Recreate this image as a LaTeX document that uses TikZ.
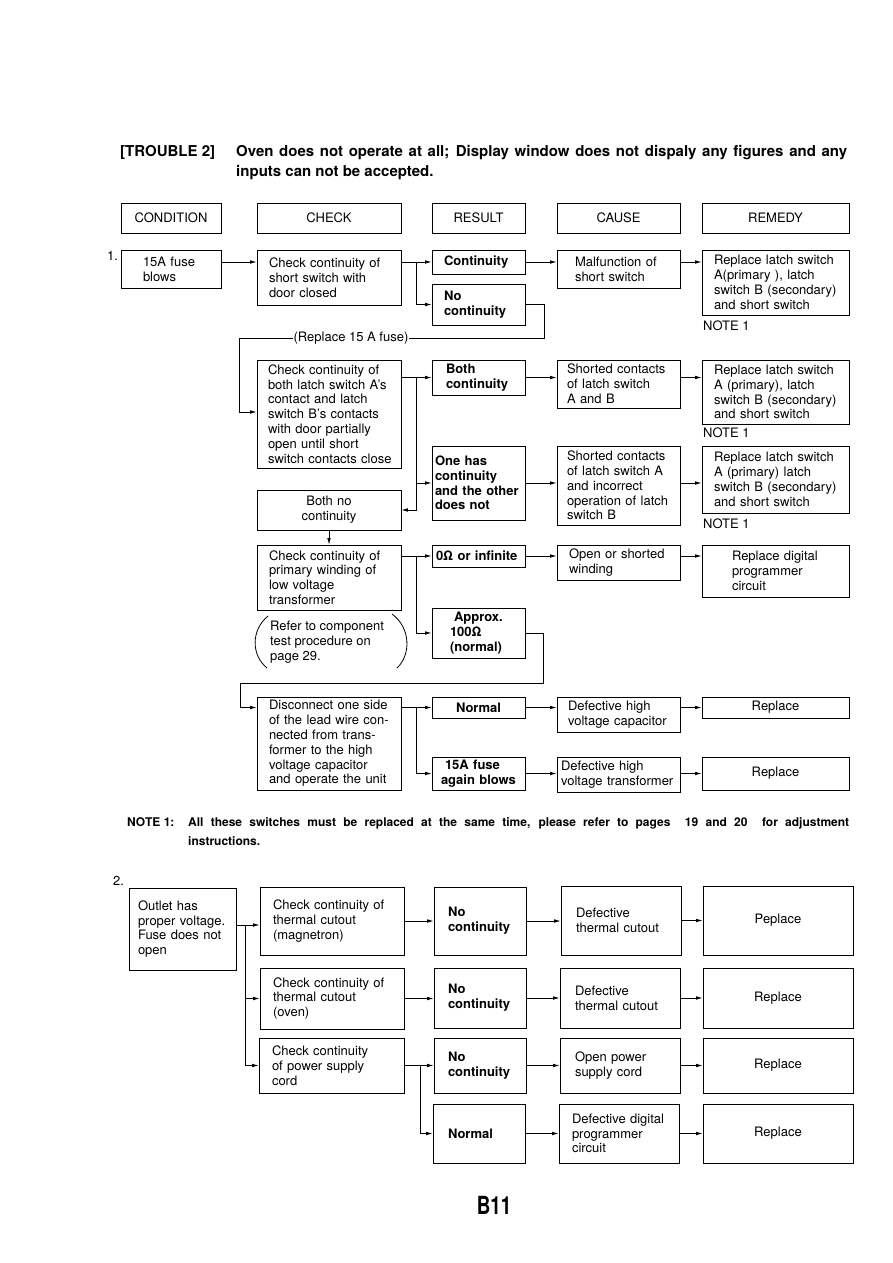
\documentclass[tikz,border=0pt]{standalone}
\usepackage{fontspec}
\setmainfont{TeX Gyre Heros}
\usetikzlibrary{arrows.meta}
\tikzset{
  bx/.style={draw, line width=0.8pt, font=\fontsize{13}{14.8}\selectfont, inner ysep=1pt},
  arr/.style={line width=0.8pt, -{Latex[length=6.5pt,width=3.6pt]}},
  ln/.style={line width=0.8pt},
  lbl/.style={font=\fontsize{13}{14.8}\selectfont, inner sep=0pt},
}
\newcommand\bx[8]{%
  \pgfmathsetlengthmacro\bxw{(#4)-(#2)-2*(#6)}%
  \pgfmathsetlengthmacro\bxh{(#5)-(#3)}%
  \pgfmathsetlengthmacro\bxfw{(#4)-(#2)}%
  \node[bx, minimum width=\bxfw, minimum height=\bxh, inner xsep=#6pt,
        text width=\bxw, align=#7] (#1) at ({(#2+#4)/2},{(#3+#5)/2}) {#8};}
\begin{document}
\begin{tikzpicture}[x=1pt,y=-1pt]
\fill[white] (0,0) rectangle (893,1263);
\useasboundingbox (0,0) rectangle (893,1263);

% title
\node[anchor=base west, font=\fontsize{15}{20}\selectfont\bfseries, inner sep=0pt] (tt1) at (120,156) {[TROUBLE 2]};
\node[anchor=base west, font=\fontsize{15}{20}\selectfont\bfseries, inner sep=0pt, text width=611pt, align=justify] (tt2) at (236,156)
  {Oven does not operate at all; Display window does not dispaly any figures and any\linebreak inputs can not be accepted.};

% headers
\bx{hd1}{121}{203}{221}{233}{2}{center}{CONDITION}
\bx{hd2}{257}{203}{401}{233}{4}{center}{CHECK}
\bx{hd3}{432}{203}{525}{233}{4}{center}{RESULT}
\bx{hd4}{557}{203}{680}{233}{4}{center}{CAUSE}
\bx{hd5}{702}{203}{849}{233}{4}{center}{REMEDY}

% ---------- section 1
\node[lbl, anchor=north west] (num1) at (107,251) {1.};
\bx{a1}{121}{250}{221}{288}{22}{left}{15A fuse\\blows}
\bx{c1}{257}{250}{401}{305}{12}{left}{Check continuity of\\short switch with\\door closed}
\bx{r1}{432}{250}{525}{274}{12}{left}{\bfseries Continuity}
\bx{r2}{432}{284}{525}{325}{12}{left}{\bfseries No\\continuity}
\bx{k1}{557}{250}{680}{288}{18}{left}{Malfunction of\\short switch}
\bx{m1}{702}{250}{849}{315}{12}{left}{Replace latch switch\\A(primary ), latch\\switch B (secondary)\\and short switch}
\node[lbl, anchor=base west] (nt1) at (703,330) {NOTE 1};

\bx{c2}{257}{360}{401}{468}{6}{left}{\hspace*{5pt}Check continuity of\\\hspace*{5pt}both latch switch A’s\\\hspace*{5pt}contact and latch\\\hspace*{5pt}switch B’s contacts\\\hspace*{5pt}with door partially\\\hspace*{5pt}open until short\\\hspace*{5pt}switch contacts close}
\bx{b1}{432}{360}{525}{395}{14}{left}{\bfseries Both\\continuity}
\bx{b2}{432}{446}{525}{520}{3}{left}{\bfseries \mbox{One has}\\\mbox{continuity}\\\mbox{and the other}\\\mbox{does not}}
\bx{bn}{257}{490}{401}{530}{4}{center}{Both no\\continuity}
\bx{s1}{557}{360}{680}{408}{10}{left}{Shorted contacts\\of latch switch\\A and B}
\bx{m2}{702}{360}{849}{424}{12}{left}{Replace latch switch\\A (primary), latch\\switch B (secondary)\\and short switch}
\node[lbl, anchor=base west] (nt2) at (703,437) {NOTE 1};
\bx{s2}{557}{446}{680}{525}{10}{left}{Shorted contacts\\of latch switch A\\and incorrect\\operation of latch\\switch B}
\bx{m3}{702}{446}{849}{513}{12}{left}{Replace latch switch\\A (primary) latch\\switch B (secondary)\\and short switch}
\node[lbl, anchor=base west] (nt3) at (703,528) {NOTE 1};

\bx{c3}{257}{545}{401}{610}{12}{left}{Check continuity of\\primary winding of\\low voltage\\transformer}
\bx{z1}{432}{545}{525}{567}{4}{left}{\bfseries 0Ω or infinite}
\bx{z2}{432}{608}{525}{658}{18}{left}{\bfseries \hspace*{4pt}Approx.\\100Ω\\(normal)}
\bx{o1}{557}{545}{680}{580}{12}{left}{Open or shorted\\winding}
\bx{m4}{702}{545}{849}{597}{30}{left}{Replace digital\\programmer\\circuit}
\node[lbl, anchor=north west, align=left] (rf) at (270,621) {Refer to component\\test procedure on\\page 29.};
\draw[ln] (268,616) .. controls (251,630) and (251,655) .. (267,668);
\draw[ln] (392,614) .. controls (411,628) and (411,655) .. (397,668);

\bx{d1}{257}{697}{401}{790}{12}{left}{Disconnect one side\\of the lead wire con-\\nected from trans-\\former to the high\\voltage capacitor\\and operate the unit}
\bx{n1}{432}{697}{525}{718}{4}{center}{\bfseries Normal}
\bx{f1}{432}{757}{525}{790}{9}{left}{\bfseries \hspace*{4pt}15A fuse\\again blows}
\bx{h1}{557}{697}{680}{732}{11}{left}{Defective high\\voltage capacitor}
\bx{p1}{702}{697}{849}{718}{4}{center}{Replace}
\bx{h2}{557}{757}{680}{792}{4}{left}{Defective high\\voltage transformer}
\bx{p2}{702}{757}{849}{790}{4}{center}{Replace}

% connectors section 1
\coordinate (j1) at (416,262);
\draw[arr] (a1.east |- r1) -- (c1.west |- r1);
\draw[arr] (c1.east |- r1) -- (r1.west);
\draw[arr] (j1) |- (r2.west);
\draw[arr] (r1.east) -- (k1.west |- r1);
\draw[arr] (k1.east |- r1) -- (m1.west |- r1);
\coordinate (jr1) at (544,338);
\coordinate (jr2) at (239,338);
\coordinate (jr3) at (239,412);
\draw[arr] (r2.east) -| (jr1) -- (jr2) -- (jr3) -- (c2.west |- jr3);
\node[lbl, fill=white, inner xsep=1pt, inner ysep=1pt] (rl) at (351,338) {(Replace 15 A fuse)};

\coordinate (j2) at (416,377.5);
\draw[arr] (c2.east |- b1) -- (b1.west);
\draw[arr] (j2) |- (b2.west);
\draw[arr] (j2) |- (bn.east);
\draw[arr] (b1.east) -- (s1.west |- b1);
\draw[arr] (s1.east |- b1) -- (m2.west |- b1);
\draw[arr] (b2.east) -- (s2.west |- b2);
\draw[arr] (s2.east |- b2) -- (m3.west |- b2);
\draw[arr] (bn.south) -- (c3.north);

\coordinate (j3) at (416,556);
\draw[arr] (c3.east |- z1) -- (z1.west);
\draw[arr] (j3) |- (z2.west);
\draw[arr] (z1.east) -- (o1.west |- z1);
\draw[arr] (o1.east |- z1) -- (m4.west |- z1);
\coordinate (jz1) at (543,683);
\coordinate (jz2) at (240,683);
\draw[arr] (z2.east) -| (jz1) -- (jz2) |- (d1.west |- n1);

\coordinate (j4) at (416,707.5);
\draw[arr] (d1.east |- n1) -- (n1.west);
\draw[arr] (j4) |- (f1.west);
\draw[arr] (n1.east) -- (h1.west |- n1);
\draw[arr] (h1.east |- n1) -- (p1.west);
\draw[arr] (f1.east) -- (h2.west |- f1);
\draw[arr] (h2.east |- f1) -- (p2.west |- f1);

% note
\node[anchor=base west, font=\fontsize{12}{19}\selectfont\bfseries, inner sep=0pt] (nlab) at (127,826) {NOTE 1:};
\node[anchor=base west, font=\fontsize{12}{19}\selectfont\bfseries, inner sep=0pt, text width=661pt, align=justify] (ntxt) at (188,826)
  {All these switches must be replaced at the same time, please refer to pages\ \ 19 and 20\ \ for adjustment\linebreak instructions.};

% ---------- section 2
\node[lbl, anchor=north west] (num2) at (113,876) {2.};
\bx{o2}{129}{888}{236}{970}{9}{left}{Outlet has\\proper voltage.\\Fuse does not\\open}
\bx{g1}{260}{887}{404}{955}{13}{left}{Check continuity of\\thermal cutout\\(magnetron)}
\bx{g2}{260}{968}{404}{1029}{13}{left}{Check continuity of\\thermal cutout\\(oven)}
\bx{g3}{259}{1038}{404}{1093}{13}{left}{Check continuity\\of power supply\\cord}
\bx{q1}{434}{887}{526}{955}{14}{left}{\bfseries No\\continuity}
\bx{q2}{434}{968}{526}{1028}{14}{left}{\bfseries No\\continuity}
\bx{q3}{434}{1038}{526}{1093}{14}{left}{\bfseries No\\continuity}
\bx{q4}{433}{1104}{525}{1163}{15}{left}{\bfseries Normal}
\bx{e1}{561}{886}{681}{955}{15}{left}{Defective\\thermal cutout}
\bx{e2}{560}{968}{680}{1028}{15}{left}{Defective\\thermal cutout}
\bx{e3}{560}{1038}{680}{1093}{15}{left}{Open power\\supply cord}
\bx{e4}{559}{1104}{679}{1163}{13}{left}{Defective digital\\programmer\\circuit}
\bx{t1}{703}{886}{853}{955}{4}{center}{Peplace}
\bx{t2}{703}{968}{853}{1028}{4}{center}{Replace}
\bx{t3}{703}{1038}{853}{1093}{4}{center}{Replace}
\bx{t4}{703}{1104}{853}{1163}{4}{center}{Replace}

\coordinate (j5) at (245,925);
\draw[ln] (o2.east |- j5) -- (j5);
\draw[arr] (j5) -- (g1.west |- j5);
\draw[arr] (j5) |- (g2.west);
\draw[arr] (j5) |- (g3.west);
\draw[arr] (g1.east) -- (q1.west |- g1);
\draw[arr] (g2.east) -- (q2.west |- g2);
\coordinate (j6) at (420,1065.5);
\draw[arr] (g3.east) -- (q3.west |- g3);
\draw[arr] (j6) |- (q4.west);
\draw[arr] (q1.east) -- (e1.west |- q1);
\draw[arr] (e1.east) -- (t1.west |- e1);
\draw[arr] (q2.east) -- (e2.west |- q2);
\draw[arr] (e2.east) -- (t2.west |- e2);
\draw[arr] (q3.east) -- (e3.west |- q3);
\draw[arr] (e3.east) -- (t3.west |- e3);
\draw[arr] (q4.east) -- (e4.west |- q4);
\draw[arr] (e4.east) -- (t4.west |- e4);

% page number
\node[font=\fontsize{25}{25}\selectfont\bfseries, inner sep=0pt] (pg) at (494,1205) {\scalebox{0.75}[1]{B11}};
\end{tikzpicture}
\end{document}
